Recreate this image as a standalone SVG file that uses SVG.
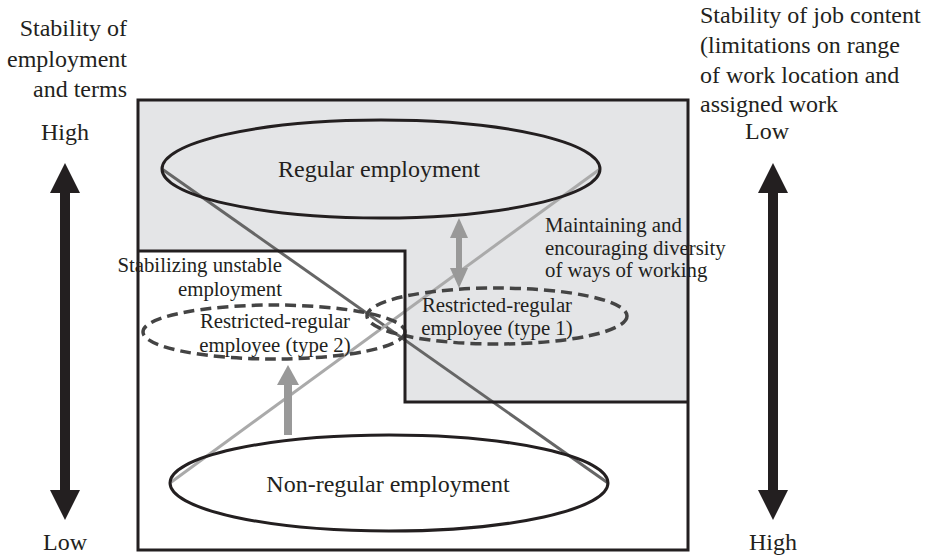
<svg xmlns="http://www.w3.org/2000/svg" width="927" height="557" viewBox="0 0 927 557">
<style>
text{fill:#231f20}
.lab{font-size:24px}
.big{font-size:24px}
.sm{font-size:20.8px}
.ell{fill:none;stroke:#231f20;stroke-width:3}
.dash{fill:none;stroke:#444;stroke-width:3.5;stroke-dasharray:11 6}
.frame{fill:none;stroke:#231f20;stroke-width:3}
</style>
<rect width="927" height="557" fill="#fff"/>
<polygon points="138,100 688,100 688,402 405,402 405,251 138,251" fill="#e4e5e7"/>
<g id="connectors">
<line x1="162" y1="169" x2="608" y2="483" stroke="#666" stroke-width="3"/>
<line x1="170" y1="483" x2="600" y2="169" stroke="#aaa" stroke-width="3"/>
<g fill="#999">
<rect x="456" y="236" width="6" height="34"/>
<polygon points="459,218 468,238 450,238"/>
<polygon points="459,288 468,268 450,268"/>
<rect x="284" y="382" width="8" height="53"/>
<polygon points="288,365 299,385 277,385"/>
</g>
<g fill="#231f20">
<rect x="60" y="190" width="10" height="304"/>
<polygon points="65,163 80,193 50,193"/>
<polygon points="65,520 80,490 50,490"/>
<rect x="768" y="190" width="10" height="304"/>
<polygon points="773,163 788,193 758,193"/>
<polygon points="773,520 788,490 758,490"/>
</g>
</g>
<g font-family="'Liberation Serif', 'Times New Roman', Times, serif">
<g id="regular">
<ellipse cx="381" cy="169" rx="219" ry="49" class="ell"/>
<text x="379" y="177" class="big" text-anchor="middle">Regular employment</text>
</g>
<g id="nonregular">
<ellipse cx="389" cy="483" rx="219" ry="48" class="ell"/>
<text x="388" y="492" class="big" text-anchor="middle">Non-regular employment</text>
</g>
<g id="type2">
<ellipse cx="274" cy="332" rx="131" ry="27" class="dash"/>
<text x="275" y="328" class="sm" text-anchor="middle">Restricted-regular</text>
<text x="275" y="352" class="sm" text-anchor="middle">employee (type 2)</text>
</g>
<g id="type1">
<ellipse cx="497" cy="316" rx="130" ry="28" class="dash"/>
<text x="497" y="312" class="sm" text-anchor="middle">Restricted-regular</text>
<text x="497" y="335" class="sm" text-anchor="middle">employee (type 1)</text>
</g>
<g id="stabilizing">
<text x="282" y="272" class="sm" text-anchor="end">Stabilizing unstable</text>
<text x="282" y="296" class="sm" text-anchor="end">employment</text>
</g>
<g id="maintaining">
<text x="545" y="232" class="sm">Maintaining and</text>
<text x="545" y="255" class="sm">encouraging diversity</text>
<text x="545" y="277" class="sm">of ways of working</text>
</g>
<g id="left-axis">
<text x="127" y="36" class="lab" text-anchor="end">Stability of</text>
<text x="127" y="67" class="lab" text-anchor="end">employment</text>
<text x="127" y="97" class="lab" text-anchor="end">and terms</text>
<text x="65" y="140" class="lab" text-anchor="middle">High</text>
<text x="65" y="550" class="lab" text-anchor="middle">Low</text>
</g>
<g id="right-axis">
<text x="700" y="23" class="lab">Stability of job content</text>
<text x="700" y="53" class="lab">(limitations on range</text>
<text x="700" y="83" class="lab">of work location and</text>
<text x="700" y="112" class="lab">assigned work</text>
<text x="767" y="139" class="lab" text-anchor="middle">Low</text>
<text x="773" y="550" class="lab" text-anchor="middle">High</text>
</g>
</g>
<g id="frame">
<rect x="138" y="100" width="550" height="450" class="frame"/>
<polyline points="138,251 405,251 405,402 688,402" class="frame"/>
</g>
</svg>
